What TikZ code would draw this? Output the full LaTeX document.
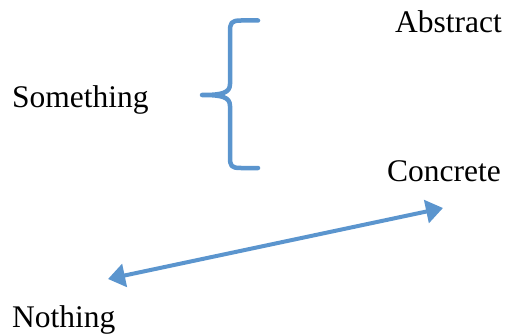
\documentclass[tikz,border=0pt]{standalone}
\usepackage{fontspec}
\setmainfont{Liberation Serif}
\usetikzlibrary{arrows.meta}
\definecolor{lblue}{RGB}{91,149,206}
\tikzset{
  lbl/.style={anchor=base west, inner sep=0pt, font=\fontsize{31.5}{36}\selectfont},
  blueline/.style={draw=lblue, line width=4.5pt, line cap=round, line join=round},
  dblarrow/.style={draw=lblue, line width=4pt, {Triangle[length=17pt,width=23pt]}-{Triangle[length=17pt,width=23pt]}}
}
\begin{document}
\begin{tikzpicture}[x=1pt,y=-1pt]
\useasboundingbox (0,0) rectangle (508,334);
\node[lbl] (abstract) at (395,33) {Abstract};
\node[lbl] (something) at (12,107) {Something};
\node[lbl] (concrete) at (387,181) {Concrete};
\node[lbl] (nothing) at (12,327) {Nothing};
% brace
\coordinate (btop) at (258,20.5);
\coordinate (bbot) at (258,168);
\coordinate (btip) at (202,95);
\draw[blueline] (btop) -- (241,20.5) .. controls (231,20.5) and (230,23) .. (230,32)
  -- (230,84) .. controls (230,93) and (222,95) .. (btip)
  .. controls (222,95) and (230,97) .. (230,106)
  -- (230,157) .. controls (230,166) and (231,168) .. (241,168) -- (bbot);
% double arrow
\coordinate (aleft) at (108,279);
\coordinate (aright) at (443,208);
\draw[dblarrow] (aleft) -- (aright);
\end{tikzpicture}
\end{document}
